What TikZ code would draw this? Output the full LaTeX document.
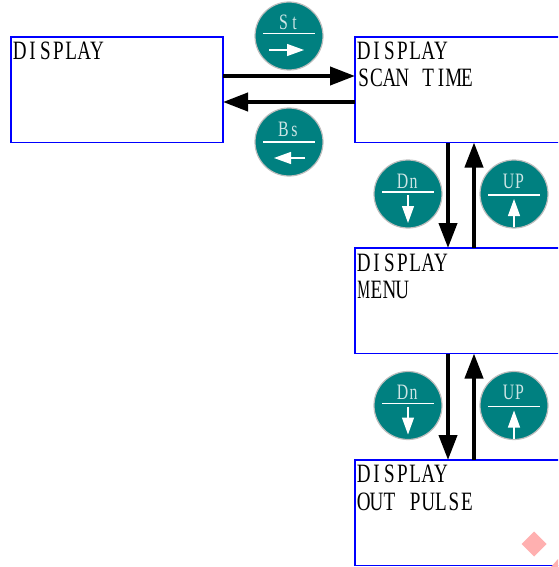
\documentclass[tikz,border=0pt]{standalone}
\usepackage{fontspec}
\usetikzlibrary{arrows.meta,calc}
\definecolor{tealb}{HTML}{008080}
\definecolor{ringg}{HTML}{BEBEBE}
\definecolor{pinkd}{HTML}{FFB0B0}
\newfontfamily\narrowserif[FakeStretch=0.72]{Liberation Serif}
\newfontfamily\narrowerserif[FakeStretch=0.54]{Liberation Serif}
\def\cellw{12.9pt}
\def\dorun#1{\ifx#1\relax\else\makebox[\cellw]{#1}\expandafter\dorun\fi}
\newcommand{\disp}[1]{{\fontsize{26.5}{28}\narrowserif\def\cellw{12.9pt}\dorun#1\relax}}
\newcommand{\keyt}[1]{{\fontsize{22}{24}\narrowserif\color{white!80!tealb}\def\cellw{11pt}\dorun#1\relax}}
\tikzset{
  x=1pt,y=-1pt,
  panel/.style={draw=blue,line width=1.1pt,minimum width=212pt,minimum height=105.5pt,inner sep=0pt,outer sep=0pt,anchor=north west},
  label/.style={inner sep=0pt,anchor=base west},
  flow/.style={draw=black,line width=4pt,-{Triangle[length=25pt,width=18pt]},shorten >=0pt},
  keyc/.style={circle,fill=tealb,draw=ringg,line width=1.2pt,minimum size=68pt,inner sep=0pt},
  rule/.style={draw=white,line width=1.1pt},
  wflow/.style={draw=white,line width=1.2pt,-{Triangle[length=17pt,width=12pt]}},
  ktext/.style={inner sep=0pt,anchor=base}
}
\begin{document}
\begin{tikzpicture}
\useasboundingbox (0,0) rectangle (558,567);
\clip (0,0) rectangle (558,567);
% panels
\node[panel] (b1) at (11,37) {};
\node[panel] (b2) at (355,37) {};
\node[panel] (b3) at (355,248) {};
\node[panel] (b4) at (355,460) {};
% panel text
\node[label] (t1) at (13,59.5) {\disp{DISPLAY}};
\node[label] (t2) at (357,59.5) {\disp{DISPLAY}};
\node[label] (t2b) at (357,87) {\disp{SCAN~TIME}};
\node[label] (t3) at (357,271) {\disp{DISPLAY}};
\node[label] (t3b) at (357,298) {\disp{{\narrowerserif M}ENU}};
\node[label] (t4) at (357,482.5) {\disp{DISPLAY}};
\node[label] (t4b) at (357,510) {\disp{OUT~PULSE}};
% flows
\draw[flow] (b1.east |- 0,76) -- (b2.west |- 0,76);
\draw[flow] (b2.west |- 0,102) -- (b1.east |- 0,102);
\draw[flow] (b2.south -| 448,0) -- (b3.north -| 448,0);
\draw[flow] (b3.north -| 474,0) -- (b2.south -| 474,0);
\draw[flow] (b3.south -| 448,0) -- (b4.north -| 448,0);
\draw[flow] (b4.north -| 474,0) -- (b3.south -| 474,0);
% keys
\node[keyc] (kst) at (289,36) {};
\node[keyc] (kbs) at (289,142) {};
\node[keyc] (kd1) at (408,194) {};
\node[keyc] (ku1) at (514,194) {};
\node[keyc] (kd2) at (408,405.5) {};
\node[keyc] (ku2) at (514,405.5) {};
% St
\node[ktext] at ($(kst)+(0,-6)$) {\keyt{St}};
\draw[rule] ($(kst)+(-26,-2.5)$) -- ($(kst)+(26,-2.5)$);
\draw[wflow] ($(kst)+(-20,14)$) -- ($(kst)+(15,14)$);
% Bs
\node[ktext] at ($(kbs)+(0,-6)$) {\keyt{Bs}};
\draw[rule] ($(kbs)+(-26,0)$) -- ($(kbs)+(26,0)$);
\draw[wflow] ($(kbs)+(16,16)$) -- ($(kbs)+(-15,16)$);
% Dn, UP
\foreach \k in {kd1,kd2}{
  \node[ktext] at ($(\k)+(0,-6)$) {\keyt{Dn}};
  \draw[rule] ($(\k)+(-26,-2)$) -- ($(\k)+(26,-2)$);
  \draw[wflow] ($(\k)+(0,1)$) -- ($(\k)+(0,29)$);
}
\foreach \k in {ku1,ku2}{
  \node[ktext] at ($(\k)+(0,-6)$) {\keyt{UP}};
  \draw[rule] ($(\k)+(-26,1)$) -- ($(\k)+(26,1)$);
  \draw[wflow] ($(\k)+(0,33)$) -- ($(\k)+(0,5)$);
}
% pink marks
\fill[pinkd] (534,531.5) -- (546.5,544) -- (534,556.5) -- (521.5,544) -- cycle;
\fill[pinkd] (558,559) -- (551,567) -- (558,567) -- cycle;
\end{tikzpicture}
\end{document}
